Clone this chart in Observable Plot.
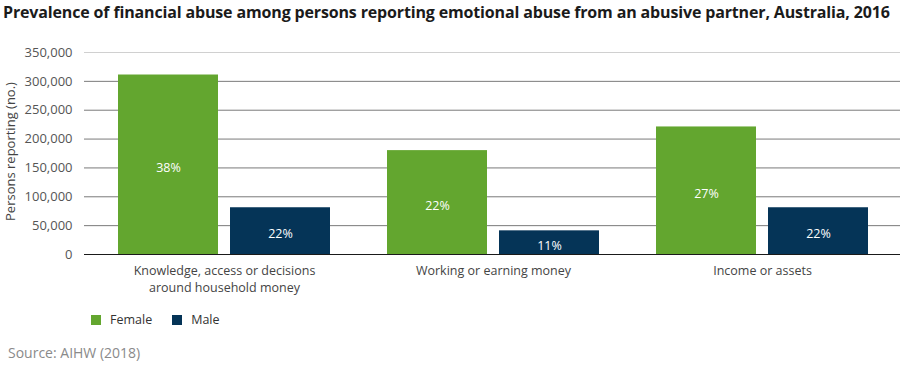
<!DOCTYPE html>
<html>
<head>
<meta charset="utf-8">
<script src="https://cdn.jsdelivr.net/npm/d3@7"></script>
<script src="https://cdn.jsdelivr.net/npm/@observablehq/plot@0.6"></script>
<style>
  html, body { margin: 0; padding: 0; background: #fff; }
  body { width: 900px; height: 365px; position: relative; font-family: "Open Sans", sans-serif; overflow: hidden; }
  #title { position: absolute; left: 3px; top: 1px; font-weight: 700; font-size: 16px; letter-spacing: -0.15px; color: #1b1b1b; white-space: nowrap; }
  #chart { position: absolute; left: 0; top: 30px; }
  #legend { position: absolute; left: 91px; top: 311px; font-size: 12.5px; color: #333; display: flex; align-items: center; }
  #legend .sw { width: 10px; height: 10px; display: inline-block; margin-right: 9px; }
  #legend .item { display: flex; align-items: center; margin-right: 20px; }
  #source { position: absolute; left: 8px; top: 343px; font-size: 14px; color: #8a8a8a; }
</style>
</head>
<body>
<div id="title">Prevalence of financial abuse among persons reporting emotional abuse from an abusive partner, Australia, 2016</div>
<div id="chart"></div>
<div id="legend"></div>
<div id="source">Source: AIHW (2018)</div>
<script>
const categories = ["Knowledge, access or decisions around household money", "Working or earning money", "Income or assets"];
const categoryLines = ["Knowledge, access or decisions\naround household money", "Working or earning money", "Income or assets"];
const series = ["Female", "Male"];
const femaleValues = [311000, 180000, 221000];
const maleValues = [81000, 41000, 81000];
const femalePct = ["38%", "22%", "27%"];
const malePct = ["22%", "11%", "22%"];
const yTicks = [0, 50000, 100000, 150000, 200000, 250000, 300000, 350000];
const yLabel = "Persons reporting (no.)";
const colors = ["#63a62f", "#053457"];

const female = categories.map((c, i) => ({category: c, value: femaleValues[i], pct: femalePct[i]}));
const male = categories.map((c, i) => ({category: c, value: maleValues[i], pct: malePct[i]}));
const labelOf = new Map(categories.map((c, i) => [c, categoryLines[i]]));

const chart = Plot.plot({
  width: 900,
  height: 270,
  marginLeft: 84,
  marginRight: 0,
  marginTop: 22,
  marginBottom: 46,
  style: {fontFamily: "Open Sans", fontSize: "12.5px", color: "#555", background: "transparent"},
  x: {domain: categories, paddingInner: 0.2126, paddingOuter: 0.1216, align: 0.52, label: null},
  y: {domain: [0, 350000], label: null},
  marks: [
    Plot.ruleY(yTicks.filter(d => d > 0), {stroke: d => d === 350000 ? "#d0d0d0" : "#7a7a7a", strokeWidth: 1}),
    Plot.barY(female, {x: "category", y: "value", fill: colors[0], insetRight: 112}),
    Plot.barY(male, {x: "category", y: "value", fill: colors[1], insetLeft: 112}),
    Plot.text(female, {x: "category", y: d => d.value / 2, text: "pct", dx: -56, dy: 3, fill: "white", fontSize: 12.5}),
    Plot.text(male, {x: "category", y: d => d.value / 2, text: "pct", dx: 56, dy: 3, fill: "white", fontSize: 12.5}),
    Plot.ruleY([0], {stroke: "#1a1a1a", strokeWidth: 1}),
    Plot.axisY({ticks: yTicks, tickFormat: d3.format(","), tickSize: 0, tickPadding: 12, fill: "#555", fontSize: 13, label: null}),
    Plot.text([yLabel], {frameAnchor: "left", textAnchor: "middle", text: d => d, rotate: -90, dx: -74, dy: -2, fill: "#444", fontSize: 13}),
    Plot.axisX({tickSize: 0, tickPadding: 9, tickFormat: d => labelOf.get(d), fill: "#444", lineHeight: 1.35, fontSize: 12.5})
  ]
});
document.getElementById("chart").appendChild(chart);

const legend = document.getElementById("legend");
series.forEach((s, i) => {
  const item = document.createElement("div");
  item.className = "item";
  const sw = document.createElement("span");
  sw.className = "sw";
  sw.style.background = colors[i];
  item.appendChild(sw);
  item.appendChild(document.createTextNode(s));
  legend.appendChild(item);
});
</script>
</body>
</html>
